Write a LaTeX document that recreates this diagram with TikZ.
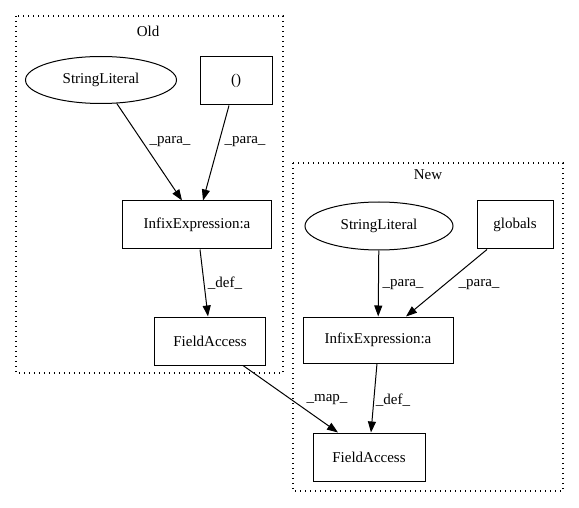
\documentclass[tikz,border=0pt]{standalone}
\usepackage{fontspec}
\setmainfont{Liberation Serif}
\usetikzlibrary{arrows.meta,shapes.geometric}
\begin{document}
\begin{tikzpicture}[x=1pt,y=1pt,
  every node/.style={font=\fontsize{15}{17}\selectfont},
  box/.style={draw,line width=1pt,rectangle,inner sep=0pt},
  ell/.style={draw,line width=1pt,ellipse,inner sep=0pt},
  lbl/.style={inner sep=0pt},
  cluster/.style={draw,line width=1.1pt,dash pattern=on 1.2pt off 3.8pt},
  arr/.style={line width=1pt,-{Triangle[length=11pt,width=8pt]}}]
\useasboundingbox (0,0) rectangle (579,-508);
% clusters
\draw[cluster] (16,-16) rectangle (283,-373);
\node[lbl] (oldlbl) at (148,-31) {Old};
\draw[cluster] (293,-163) rectangle (563,-491);
\node[lbl] (newlbl) at (428,-175) {New};
% old nodes
\node[ell,minimum width=151pt,minimum height=47pt] (osl) at (101,-80) {StringLiteral};
\node[box,minimum width=72pt,minimum height=48pt] (opar) at (236,-81) {()};
\node[box,minimum width=149pt,minimum height=48pt] (oinf) at (197,-225) {InfixExpression:a};
\node[box,minimum width=111pt,minimum height=48pt] (ofa) at (210,-341) {FieldAccess};
% new nodes
\node[ell,minimum width=148pt,minimum height=48pt] (nsl) at (379,-226) {StringLiteral};
\node[box,minimum width=76pt,minimum height=48pt] (nglob) at (515,-225) {globals};
\node[box,minimum width=150pt,minimum height=46pt] (ninf) at (378,-340) {InfixExpression:a};
\node[box,minimum width=112pt,minimum height=48pt] (nfa) at (369,-457) {FieldAccess};
% edges
\draw[arr] (osl) -- (oinf.north -| 182,0);
\draw[arr] (opar.south -| 229,0) -- (oinf.north -| 203,0);
\draw[arr] (oinf.south -| 200,0) -- (ofa.north -| 208,0);
\draw[arr] (nsl) -- (ninf);
\draw[arr] (nglob.south -| 487,0) -- (ninf.north -| 406,0);
\draw[arr] (ninf.south -| 377,0) -- (nfa.north -| 371,0);
\draw[arr] (ofa.south -| 243,0) -- (nfa.north -| 338,0);
% labels
\node[lbl] (l1) at (170,-142) {\_para\_};
\node[lbl] (l2) at (245,-142) {\_para\_};
\node[lbl] (l3) at (225,-283) {\_def\_};
\node[lbl] (l4) at (403,-285) {\_para\_};
\node[lbl] (l5) at (479,-285) {\_para\_};
\node[lbl] (l6) at (327,-400) {\_map\_};
\node[lbl] (l7) at (393,-400) {\_def\_};
\end{tikzpicture}
\end{document}
